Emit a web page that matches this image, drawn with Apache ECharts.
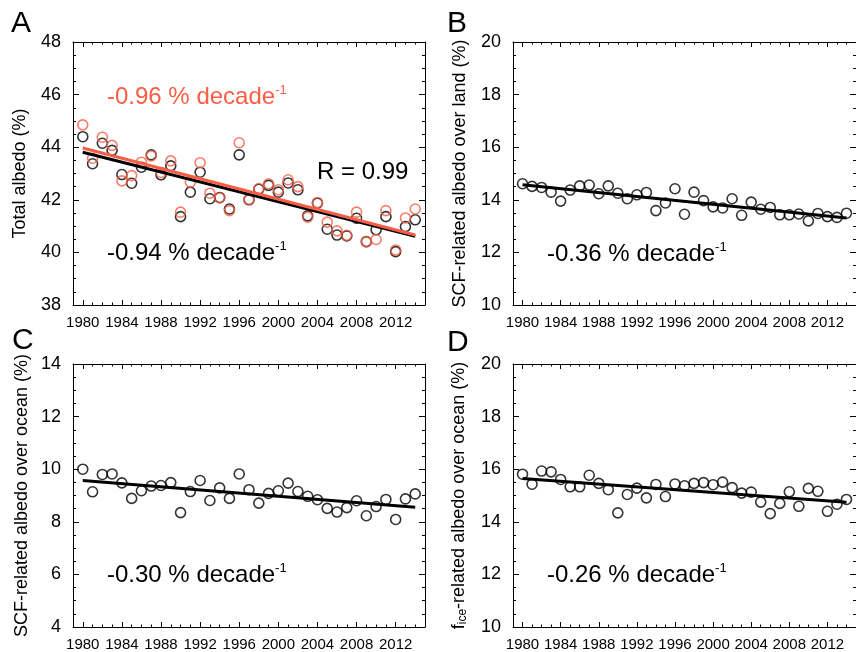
<!DOCTYPE html>
<html>
<head>
<meta charset="utf-8">
<script src="https://cdn.jsdelivr.net/npm/echarts@6/dist/echarts.min.js"></script>
<style>
  html, body { margin: 0; padding: 0; background: #ffffff; }
  #chart { width: 856px; height: 652px; }
</style>
</head>
<body>
<div id="chart"></div>
<script>
// data
var years = [1980, 1981, 1982, 1983, 1984, 1985, 1986, 1987, 1988, 1989,
  1990, 1991, 1992, 1993, 1994, 1995, 1996, 1997, 1998, 1999,
  2000, 2001, 2002, 2003, 2004, 2005, 2006, 2007, 2008, 2009,
  2010, 2011, 2012, 2013, 2014]
var labelYears = [1980, 1984, 1988, 1992, 1996, 2000, 2004, 2008, 2012]
var trendYears = [1980, 2014]

// A: total albedo
var totalBlack = [44.40, 43.37, 44.15, 43.88, 42.96, 42.63, 43.24, 43.71, 42.95, 43.29,
  41.36, 42.29, 43.05, 42.04, 42.09, 41.65, 43.71, 42.00, 42.40, 42.55,
  42.29, 42.64, 42.38, 41.39, 41.87, 40.88, 40.66, 40.63, 41.30, 40.41,
  40.86, 41.36, 40.03, 40.98, 41.24]
var totalRed = [44.85, 43.58, 44.38, 44.07, 42.72, 42.92, 43.43, 43.67, 43.04, 43.48,
  41.53, 42.67, 43.41, 42.25, 42.07, 41.59, 44.17, 42.02, 42.43, 42.61,
  42.38, 42.76, 42.50, 41.34, 41.90, 41.15, 40.82, 40.65, 41.53, 40.40,
  40.49, 41.59, 40.09, 41.31, 41.65]
var trendTotalBlack = [43.81, 40.61]
var trendTotalRed = [43.97, 40.66]

// B: SCF-related albedo over land
var scfLand = [14.61, 14.51, 14.47, 14.29, 13.95, 14.37, 14.53, 14.56, 14.23, 14.53,
  14.25, 14.04, 14.19, 14.28, 13.59, 13.88, 14.42, 13.45, 14.29, 13.97,
  13.73, 13.69, 14.04, 13.41, 13.91, 13.64, 13.71, 13.43, 13.43, 13.46,
  13.20, 13.48, 13.36, 13.33, 13.49]
var trendScfLand = [14.57, 13.31]

// C: SCF-related albedo over ocean
var scfOcean = [10.00, 9.14, 9.80, 9.82, 9.48, 8.89, 9.18, 9.36, 9.38, 9.49,
  8.35, 9.15, 9.57, 8.81, 9.29, 8.89, 9.82, 9.22, 8.71, 9.08,
  9.18, 9.47, 9.15, 8.97, 8.84, 8.51, 8.37, 8.54, 8.80, 8.23,
  8.58, 8.85, 8.09, 8.87, 9.06]
var trendScfOcean = [9.57, 8.55]

// D: fice-related albedo over ocean
var iceOcean = [15.81, 15.43, 15.93, 15.90, 15.61, 15.33, 15.33, 15.77, 15.46, 15.22,
  14.34, 15.04, 15.28, 14.91, 15.42, 14.96, 15.44, 15.37, 15.46, 15.49,
  15.41, 15.51, 15.30, 15.09, 15.13, 14.75, 14.31, 14.70, 15.14, 14.59,
  15.27, 15.16, 14.40, 14.67, 14.85]
var trendIceOcean = [15.65, 14.74]

var RED = '#f85e45'
var FONT = 'Liberation Sans, Arial, Helvetica, sans-serif'

var panels = [
  { left: 73, top: 42, ymin: 38, ymax: 48, name: 'Total albedo (%)', gap: 44 },
  { left: 513, top: 42, ymin: 10, ymax: 20, name: 'SCF-related albedo over land (%)', gap: 44 },
  { left: 73, top: 364, ymin: 4, ymax: 14, name: 'SCF-related albedo over ocean (%)', gap: 42 },
  { left: 513, top: 364, ymin: 10, ymax: 20, name: '{n|f}{sub|ice}{n|-related albedo over ocean (%)}', gap: 44 }
]

function pairs(xs, ys) {
  return xs.map(function (x, i) { return [x, ys[i]] })
}

var grids = []
var xAxes = []
var yAxes = []

panels.forEach(function (p, g) {
  grids.push({ left: p.left, top: p.top, width: 352, height: 263 })
  var line = { show: true, lineStyle: { color: '#000', width: 1 } }
  // bottom + top: major ticks, then yearly minor ticks
  ;['bottom', 'top'].forEach(function (pos) {
    xAxes.push({
      gridIndex: g, type: 'value', position: pos, min: 1979, max: 2015,
      axisLine: line,
      axisTick: { inside: true, length: 5, customValues: labelYears, lineStyle: { color: '#000' } },
      axisLabel: {
        show: pos === 'bottom', customValues: labelYears, margin: 10,
        fontSize: 15, color: '#000', fontFamily: FONT,
        formatter: function (v) { return String(v) }
      },
      splitLine: { show: false }
    })
    xAxes.push({
      gridIndex: g, type: 'value', position: pos, min: 1979, max: 2015,
      axisLine: { show: false },
      axisTick: { inside: true, length: 2.5, customValues: years, lineStyle: { color: '#000' } },
      axisLabel: { show: false },
      splitLine: { show: false }
    })
  })
  ;['left', 'right'].forEach(function (pos) {
    yAxes.push({
      gridIndex: g, type: 'value', position: pos, min: p.ymin, max: p.ymax, interval: 2,
      name: pos === 'left' ? p.name : '',
      nameLocation: 'middle', nameGap: p.gap,
      nameTextStyle: {
        fontSize: 18, color: '#000', fontFamily: FONT,
        rich: {
          n: { fontSize: 18, color: '#000', fontFamily: FONT },
          sub: { fontSize: 12, color: '#000', fontFamily: FONT, verticalAlign: 'bottom', padding: [8, 0, 0, 0] }
        }
      },
      axisLine: line,
      axisTick: { inside: true, length: 6, lineStyle: { color: '#000' } },
      minorTick: { show: true, splitNumber: 4, length: 3, lineStyle: { color: '#000' } },
      axisLabel: { show: pos === 'left', fontSize: 18, color: '#000', fontFamily: FONT, margin: 12 },
      splitLine: { show: false }
    })
  })
})

function dots(g, values, color) {
  return {
    type: 'scatter', xAxisIndex: g * 4, yAxisIndex: g * 2,
    data: pairs(years, values), symbol: 'circle', symbolSize: 10,
    itemStyle: { color: 'rgba(0,0,0,0)', borderColor: color, borderWidth: 1.6 },
    silent: true
  }
}
function trend(g, values, color) {
  return {
    type: 'line', xAxisIndex: g * 4, yAxisIndex: g * 2,
    data: pairs(trendYears, values), showSymbol: false,
    lineStyle: { color: color, width: 3 }, silent: true
  }
}

function label(left, top, main, color) {
  return {
    type: 'text', left: left, top: top,
    style: {
      text: '{t|' + main + '}{s|-1}',
      rich: {
        t: { fontSize: 24, fill: color, fontFamily: FONT, lineHeight: 26 },
        s: { fontSize: 13, fill: color, fontFamily: FONT, verticalAlign: 'top', lineHeight: 13 }
      }
    }
  }
}
function letter(left, top, ch) {
  return { type: 'text', left: left, top: top, style: { text: ch, fontSize: 30, fill: '#000', fontFamily: FONT } }
}

var chart = echarts.init(document.getElementById('chart'))
chart.setOption({
  backgroundColor: '#ffffff',
  animation: false,
  grid: grids,
  xAxis: xAxes,
  yAxis: yAxes,
  series: [
    dots(0, totalBlack, '#000'),
    dots(0, totalRed, RED),
    trend(0, trendTotalBlack, '#000'),
    trend(0, trendTotalRed, RED),
    dots(1, scfLand, '#000'),
    trend(1, trendScfLand, '#000'),
    dots(2, scfOcean, '#000'),
    trend(2, trendScfOcean, '#000'),
    dots(3, iceOcean, '#000'),
    trend(3, trendIceOcean, '#000')
  ],
  graphic: [
    letter(11, 9, 'A'),
    letter(447, 9, 'B'),
    letter(12, 326, 'C'),
    letter(447, 328, 'D'),
    label(107, 84, '-0.96 % decade', RED),
    label(107, 240, '-0.94 % decade', '#000'),
    { type: 'text', left: 317, top: 160, style: { text: 'R = 0.99', fontSize: 24, fill: '#000', fontFamily: FONT } },
    label(547, 241, '-0.36 % decade', '#000'),
    label(107, 562, '-0.30 % decade', '#000'),
    label(547, 562, '-0.26 % decade', '#000')
  ]
})
</script>
</body>
</html>
